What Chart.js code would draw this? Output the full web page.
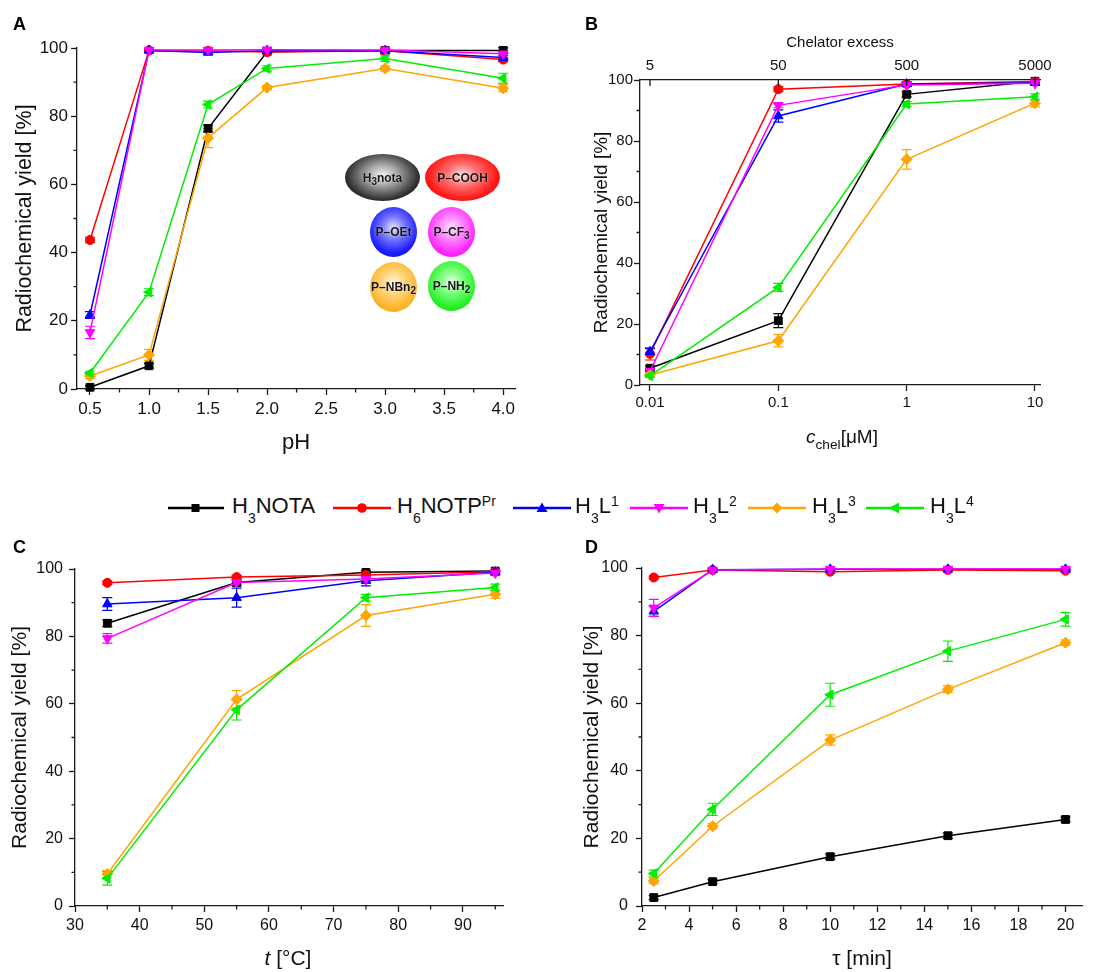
<!DOCTYPE html>
<html><head><meta charset="utf-8">
<script src="https://cdn.jsdelivr.net/npm/chart.js@4.4.1/dist/chart.umd.min.js"></script>
<style>
html,body{margin:0;padding:0;background:#fff;}
body{width:1110px;height:972px;overflow:hidden;position:relative;font-family:"Liberation Sans",Arial,sans-serif;color:#111;}
canvas{position:absolute;}
.letter{position:absolute;font-weight:bold;font-size:18px;line-height:18px;color:#000;z-index:3;}
.ball{position:absolute;border-radius:50%;display:flex;align-items:center;justify-content:center;font-weight:bold;font-size:12px;color:#161616;text-shadow:0 0 1.5px rgba(255,255,255,0.75);z-index:3;white-space:nowrap;}
.ball span{display:inline-block;line-height:14px;}
.ball sub{font-size:10px;vertical-align:-3px;line-height:0;}
.lg-icon{position:absolute;top:501px;z-index:3;}
.lg-text{position:absolute;top:493px;font-size:22px;line-height:26px;white-space:nowrap;color:#111;z-index:3;}
.lg-text sub{font-size:14px;vertical-align:-10px;line-height:0;}
.lg-text sup{font-size:14px;vertical-align:7px;line-height:0;}
.xt{position:absolute;width:400px;text-align:center;line-height:24px;white-space:nowrap;color:#111;z-index:3;}
.xt sub{font-size:0.72em;vertical-align:-6px;line-height:0;}
</style>
</head>
<body>
<canvas id="cA" width="555" height="470" style="left:0;top:0"></canvas>
<canvas id="cB" width="550" height="470" style="left:560px;top:0"></canvas>
<canvas id="cC" width="555" height="442" style="left:0;top:530px"></canvas>
<canvas id="cD" width="550" height="442" style="left:560px;top:530px"></canvas>

<div class="letter" style="left:13px;top:15px">A</div>
<div class="letter" style="left:585px;top:15px">B</div>
<div class="letter" style="left:13px;top:538px">C</div>
<div class="letter" style="left:585px;top:538px">D</div>

<!-- inset balls in panel A -->
<div class="ball" style="left:345px;top:154px;width:75px;height:47px;background:radial-gradient(ellipse at 50% 45%,#f2f2f2 0%,#b0b0b0 25%,#454545 60%,#000 85%);"><span>H<sub>3</sub>nota</span></div>
<div class="ball" style="left:425px;top:154px;width:75px;height:47px;background:radial-gradient(ellipse at 50% 45%,#ffe0e0 0%,#ff7070 30%,#ff1a1a 65%,#e00000 100%);"><span>P–COOH</span></div>
<div class="ball" style="left:370px;top:207px;width:47px;height:50px;background:radial-gradient(circle at 50% 42%,#e4e4ff 0%,#7a7aff 30%,#2020ff 65%,#0000d0 100%);"><span>P–OEt</span></div>
<div class="ball" style="left:428px;top:207px;width:47px;height:50px;background:radial-gradient(circle at 50% 42%,#ffe4ff 0%,#ff8aff 30%,#ff2aff 65%,#e000e0 100%);"><span>P–CF<sub>3</sub></span></div>
<div class="ball" style="left:370px;top:262px;width:47px;height:50px;background:radial-gradient(circle at 50% 42%,#fff6dc 0%,#ffd580 30%,#ffb52a 65%,#f0a000 100%);"><span>P–NBn<sub>2</sub></span></div>
<div class="ball" style="left:428px;top:261px;width:47px;height:50px;background:radial-gradient(circle at 50% 42%,#e4ffe4 0%,#80ff80 30%,#2af22a 65%,#00d400 100%);"><span>P–NH<sub>2</sub></span></div>

<!-- legend -->
<svg class="lg-icon" style="left:168px" width="56" height="14"><line x1="0" y1="7" x2="56" y2="7" stroke="#000" stroke-width="2.5"/><rect x="23.5" y="3" width="8" height="8" fill="#000"/></svg>
<div class="lg-text" style="left:232px">H<sub>3</sub>NOTA</div>
<svg class="lg-icon" style="left:333px" width="58" height="14"><line x1="0" y1="7" x2="58" y2="7" stroke="#ff0000" stroke-width="2.5"/><circle cx="29" cy="7" r="4.8" fill="#ff0000"/></svg>
<div class="lg-text" style="left:397px">H<sub>6</sub>NOTP<sup>Pr</sup></div>
<svg class="lg-icon" style="left:513px" width="58" height="14"><line x1="0" y1="7" x2="58" y2="7" stroke="#0000ff" stroke-width="2.5"/><polygon points="29,1.5 34.5,11 23.5,11" fill="#0000ff"/></svg>
<div class="lg-text" style="left:575px">H<sub>3</sub>L<sup>1</sup></div>
<svg class="lg-icon" style="left:630px" width="58" height="14"><line x1="0" y1="7" x2="58" y2="7" stroke="#ff00ff" stroke-width="2.5"/><polygon points="23.5,3 34.5,3 29,12.5" fill="#ff00ff"/></svg>
<div class="lg-text" style="left:693px">H<sub>3</sub>L<sup>2</sup></div>
<svg class="lg-icon" style="left:748px" width="58" height="14"><line x1="0" y1="7" x2="58" y2="7" stroke="#ffa500" stroke-width="2.5"/><polygon points="29,1.5 34.5,7 29,12.5 23.5,7" fill="#ffa500"/></svg>
<div class="lg-text" style="left:812px">H<sub>3</sub>L<sup>3</sup></div>
<svg class="lg-icon" style="left:866px" width="58" height="14"><line x1="0" y1="7" x2="58" y2="7" stroke="#00ee00" stroke-width="2.5"/><polygon points="23,7 33,1.5 33,12.5" fill="#00ee00"/></svg>
<div class="lg-text" style="left:930px">H<sub>3</sub>L<sup>4</sup></div>

<!-- special x-axis titles -->
<div class="xt" style="left:642px;top:425px;font-size:19px;"><i>c</i><sub>chel</sub>[μM]</div>
<div class="xt" style="left:88px;top:946px;font-size:21px;"><i>t</i> [°C]</div>

<script>
// ---------------- DATA ----------------
const seriesNames = ['H₃NOTA', 'H₆NOTPᴾʳ', 'H₃L¹', 'H₃L²', 'H₃L³', 'H₃L⁴'];

// Panel A: pH dependence
const phValues = [0.5, 1.0, 1.5, 2.0, 3.0, 4.0];
const A_nota = [0.5, 6.8, 76.4, 98.9, 99.3, 99.3];
const A_notp = [43.7, 99.3, 99.2, 98.8, 99.2, 96.6];
const A_L1   = [21.7, 99.3, 98.7, 99.2, 99.2, 97.2];
const A_L2   = [16.6, 99.4, 99.4, 99.5, 99.4, 98.3];
const A_L3   = [3.8, 10.0, 73.6, 88.4, 94.0, 88.2];
const A_L4   = [4.7, 28.4, 83.4, 94.0, 96.9, 91.1];
const A_err_nota = [0.5, 0.7, 1.0, 0.5, 0.5, 0.8];
const A_err_notp = [0.8, 0.3, 0.3, 0.5, 0.3, 0.6];
const A_err_L1   = [1.0, 0.3, 0.5, 0.3, 0.3, 0.6];
const A_err_L2   = [1.8, 0.3, 0.3, 0.3, 0.3, 0.6];
const A_err_L3   = [0.8, 1.6, 2.8, 0.6, 0.8, 1.0];
const A_err_L4   = [0.5, 1.0, 1.0, 0.8, 0.8, 1.5];
const A_xTicks = [0.5, 1.0, 1.5, 2.0, 2.5, 3.0, 3.5, 4.0];
const A_xMinor = [0.75, 1.25, 1.75, 2.25, 2.75, 3.25, 3.75];

// Panel B: chelator concentration
const concValues = [0.01, 0.1, 1, 10];
const B_nota = [5.5, 21.1, 95.3, 99.6];
const B_notp = [10.2, 97.0, 98.7, 99.5];
const B_L1   = [10.9, 88.2, 98.7, 99.1];
const B_L2   = [4.5, 91.7, 98.4, 98.9];
const B_L3   = [3.3, 14.5, 74.0, 92.4];
const B_L4   = [3.0, 32.0, 92.1, 94.5];
const B_err_nota = [0.8, 2.3, 0.8, 0.3];
const B_err_notp = [2.0, 0.8, 0.5, 0.3];
const B_err_L1   = [1.0, 2.0, 0.8, 0.5];
const B_err_L2   = [1.0, 0.8, 0.5, 0.5];
const B_err_L3   = [0.8, 2.0, 3.2, 1.2];
const B_err_L4   = [0.5, 1.3, 0.8, 1.0];
const B_xTicks = [0.01, 0.1, 1, 10];
const B_excessTicks = [5, 50, 500, 5000];
const B_excessFactor = 500;

// Panel C: temperature
const tempValues = [35, 55, 75, 95];
const C_nota = [83.9, 96.0, 99.0, 99.4];
const C_notp = [95.9, 97.6, 98.2, 99.2];
const C_L1   = [89.6, 91.5, 96.5, 99.0];
const C_L2   = [79.4, 96.0, 97.0, 98.8];
const C_L3   = [9.5, 61.3, 86.2, 92.5];
const C_L4   = [8.2, 58.2, 91.5, 94.5];
const C_err_nota = [1.0, 1.0, 0.5, 0.3];
const C_err_notp = [0.5, 0.5, 0.5, 0.3];
const C_err_L1   = [1.9, 2.8, 1.5, 0.5];
const C_err_L2   = [1.4, 0.5, 0.5, 0.5];
const C_err_L3   = [1.0, 2.6, 3.2, 1.2];
const C_err_L4   = [2.0, 3.0, 1.0, 1.0];
const C_xTicks = [30, 40, 50, 60, 70, 80, 90];
const C_xMinor = [35, 45, 55, 65, 75, 85, 95];

// Panel D: reaction time
const timeValues = [2.5, 5, 10, 15, 20];
const D_nota = [2.5, 7.2, 14.6, 20.8, 25.6];
const D_notp = [97.2, 99.4, 98.9, 99.4, 99.2];
const D_L1   = [87.2, 99.5, 99.6, 99.6, 99.6];
const D_L2   = [88.2, 99.4, 99.7, 99.7, 99.7];
const D_L3   = [7.4, 23.6, 49.1, 64.1, 77.9];
const D_L4   = [9.6, 28.6, 62.5, 75.4, 84.8];
const D_err_nota = [0.6, 0.6, 0.8, 0.8, 0.7];
const D_err_notp = [0.4, 0.3, 0.4, 0.3, 0.3];
const D_err_L1   = [1.5, 0.3, 0.3, 0.3, 0.3];
const D_err_L2   = [2.5, 0.3, 0.3, 0.3, 0.3];
const D_err_L3   = [0.8, 0.8, 1.5, 1.0, 0.8];
const D_err_L4   = [1.0, 1.8, 3.4, 3.0, 2.0];
const D_xTicks = [2, 4, 6, 8, 10, 12, 14, 16, 18, 20];
const D_xMinor = [3, 5, 7, 9, 11, 13, 15, 17, 19];

const yTicks = [0, 20, 40, 60, 80, 100];
const yMinor = [10, 30, 50, 70, 90];

// ---------------- STYLE ----------------
const FONT = '"Liberation Sans", Arial, sans-serif';
const COLORS = ['#000000', '#ff0000', '#0000ff', '#ff00ff', '#ffa500', '#00ee00'];
const P_STYLE = ['rect', 'circle', 'triangle', 'triangle', 'rectRot', 'triangle'];
const P_ROT = [0, 0, 0, 180, 0, 270];
const P_RAD = [5.5, 4.5, 5.5, 5.5, 5.5, 5.5];
const AX = '#1a1a1a';
Chart.defaults.font.family = FONT;

function buildDatasets(xs, series, errs) {
  return series.map((ys, i) => ({
    label: seriesNames[i],
    data: xs.map((x, j) => ({x: x, y: ys[j]})),
    errors: errs[i],
    borderColor: COLORS[i],
    backgroundColor: COLORS[i],
    pointBackgroundColor: COLORS[i],
    pointBorderColor: COLORS[i],
    pointStyle: P_STYLE[i],
    pointRotation: P_ROT[i],
    pointRadius: P_RAD[i],
    pointBorderWidth: 1,
    borderWidth: 1.5,
    tension: 0,
    clip: false,
    order: 6 - i
  }));
}

const errorBarsPlugin = {
  id: 'errorBars',
  beforeDatasetsDraw(chart) {
    const ctx = chart.ctx;
    const ys = chart.scales.y;
    ctx.save();
    chart.data.datasets.forEach((ds, i) => {
      const meta = chart.getDatasetMeta(i);
      if (!ds.errors) return;
      ctx.strokeStyle = ds.borderColor;
      ctx.lineWidth = 1.2;
      meta.data.forEach((pt, j) => {
        const e = ds.errors[j];
        if (!e) return;
        const v = ds.data[j].y;
        const y1 = ys.getPixelForValue(v + e);
        const y2 = ys.getPixelForValue(v - e);
        const x = pt.x, hw = 5;
        ctx.beginPath();
        ctx.moveTo(x, y1); ctx.lineTo(x, y2);
        ctx.moveTo(x - hw, y1); ctx.lineTo(x + hw, y1);
        ctx.moveTo(x - hw, y2); ctx.lineTo(x + hw, y2);
        ctx.stroke();
      });
    });
    ctx.restore();
  }
};

function minorPlugin(spec) {
  return {
    id: 'minorTicks',
    afterDraw(chart) {
      const ctx = chart.ctx, ca = chart.chartArea;
      ctx.save();
      ctx.strokeStyle = AX;
      ctx.lineWidth = 1.3;
      ctx.beginPath();
      (spec.x || []).forEach(v => {
        const px = chart.scales.x.getPixelForValue(v);
        ctx.moveTo(px, ca.bottom); ctx.lineTo(px, ca.bottom + 3.5);
      });
      (spec.y || []).forEach(v => {
        const py = chart.scales.y.getPixelForValue(v);
        ctx.moveTo(ca.left - 3.5, py); ctx.lineTo(ca.left, py);
      });
      (spec.top || []).forEach(v => {
        const px = chart.scales.x2.getPixelForValue(v);
        ctx.moveTo(px, ca.top); ctx.lineTo(px, ca.top + 6);
      });
      ctx.stroke();
      ctx.restore();
    }
  };
}

function axis(o) {
  return {
    type: o.type || 'linear',
    position: o.position,
    min: o.min, max: o.max,
    afterBuildTicks: s => { s.ticks = o.ticks.map(v => ({value: v})); },
    afterFit: s => {
      if (o.width != null) s.width = o.width;
      if (o.height != null) s.height = o.height;
    },
    ticks: {
      autoSkip: false, maxRotation: 0, minRotation: 0,
      color: '#111',
      font: {family: FONT, size: o.fontSize},
      padding: o.pad,
      callback: o.fmt || (v => String(v))
    },
    grid: {
      drawOnChartArea: false,
      drawTicks: o.drawTicks !== false,
      tickLength: o.tl || 6,
      tickColor: AX, tickWidth: 1.3
    },
    border: {display: true, color: AX, width: 1.3},
    title: o.title ? {
      display: true, text: o.title, color: '#111',
      font: {family: FONT, size: o.titleSize},
      padding: o.titlePad
    } : {display: false}
  };
}

function makeChart(id, datasets, scales, padding, minorSpec) {
  return new Chart(document.getElementById(id), {
    type: 'line',
    data: {datasets: datasets},
    options: {
      responsive: false, animation: false, devicePixelRatio: 1,
      layout: {padding: padding},
      plugins: {legend: {display: false}, tooltip: {enabled: false}},
      scales: scales
    },
    plugins: [errorBarsPlugin, minorPlugin(minorSpec)]
  });
}

// ---------------- PANEL A ----------------
makeChart('cA',
  buildDatasets(phValues, [A_nota, A_notp, A_L1, A_L2, A_L3, A_L4],
    [A_err_nota, A_err_notp, A_err_L1, A_err_L2, A_err_L3, A_err_L4]),
  {
    x: axis({position: 'bottom', min: 0.39, max: 4.1, ticks: A_xTicks, height: 81,
      fontSize: 17, pad: 4, fmt: v => Number(v).toFixed(1),
      title: 'pH', titleSize: 22, titlePad: {top: 0, bottom: 14}}),
    y: axis({position: 'left', min: 0, max: 100, ticks: yTicks, width: 77,
      fontSize: 17, pad: 3,
      title: 'Radiochemical yield [%]', titleSize: 21.5, titlePad: {top: 12, bottom: 0}})
  },
  {left: 0, top: 48, right: 40, bottom: 0},
  {x: A_xMinor, y: yMinor});

// ---------------- PANEL B ----------------
const bMin = 0.00836, bMax = 10.94;
makeChart('cB',
  buildDatasets(concValues, [B_nota, B_notp, B_L1, B_L2, B_L3, B_L4],
    [B_err_nota, B_err_notp, B_err_L1, B_err_L2, B_err_L3, B_err_L4]),
  {
    x: axis({type: 'logarithmic', position: 'bottom', min: bMin, max: bMax, ticks: B_xTicks, height: 85,
      fontSize: 15, pad: 3, fmt: v => String(v)}),
    x2: axis({type: 'logarithmic', position: 'top', min: bMin * B_excessFactor, max: bMax * B_excessFactor,
      ticks: B_excessTicks, height: 80, fontSize: 15, pad: 5, drawTicks: false, fmt: v => String(v),
      title: 'Chelator excess', titleSize: 15, titlePad: {top: 34, bottom: 0}}),
    y: axis({position: 'left', min: 0, max: 100, ticks: yTicks, width: 80,
      fontSize: 15, pad: 1,
      title: 'Radiochemical yield [%]', titleSize: 19, titlePad: {top: 30, bottom: 0}})
  },
  {left: 0, top: 0, right: 70, bottom: 0},
  {y: yMinor, top: B_excessTicks});

// ---------------- PANEL C ----------------
makeChart('cC',
  buildDatasets(tempValues, [C_nota, C_notp, C_L1, C_L2, C_L3, C_L4],
    [C_err_nota, C_err_notp, C_err_L1, C_err_L2, C_err_L3, C_err_L4]),
  {
    x: axis({position: 'bottom', min: 30, max: 96.2, ticks: C_xTicks, height: 66,
      fontSize: 16, pad: 4}),
    y: axis({position: 'left', min: 0, max: 100, ticks: yTicks, width: 75,
      fontSize: 16, pad: 6,
      title: 'Radiochemical yield [%]', titleSize: 21, titlePad: {top: 8, bottom: 0}})
  },
  {left: 0, top: 39, right: 52, bottom: 0},
  {x: C_xMinor, y: yMinor});

// ---------------- PANEL D ----------------
makeChart('cD',
  buildDatasets(timeValues, [D_nota, D_notp, D_L1, D_L2, D_L3, D_L4],
    [D_err_nota, D_err_notp, D_err_L1, D_err_L2, D_err_L3, D_err_L4]),
  {
    x: axis({position: 'bottom', min: 2, max: 20.7, ticks: D_xTicks, height: 66,
      fontSize: 16, pad: 4,
      title: 'τ [min]', titleSize: 21, titlePad: {top: 0, bottom: 0}}),
    y: axis({position: 'left', min: 0, max: 100, ticks: yTicks, width: 82,
      fontSize: 16, pad: 8,
      title: 'Radiochemical yield [%]', titleSize: 21, titlePad: {top: 20, bottom: 0}})
  },
  {left: 0, top: 38, right: 28, bottom: 0},
  {x: D_xMinor, y: yMinor});
</script>
</body></html>
